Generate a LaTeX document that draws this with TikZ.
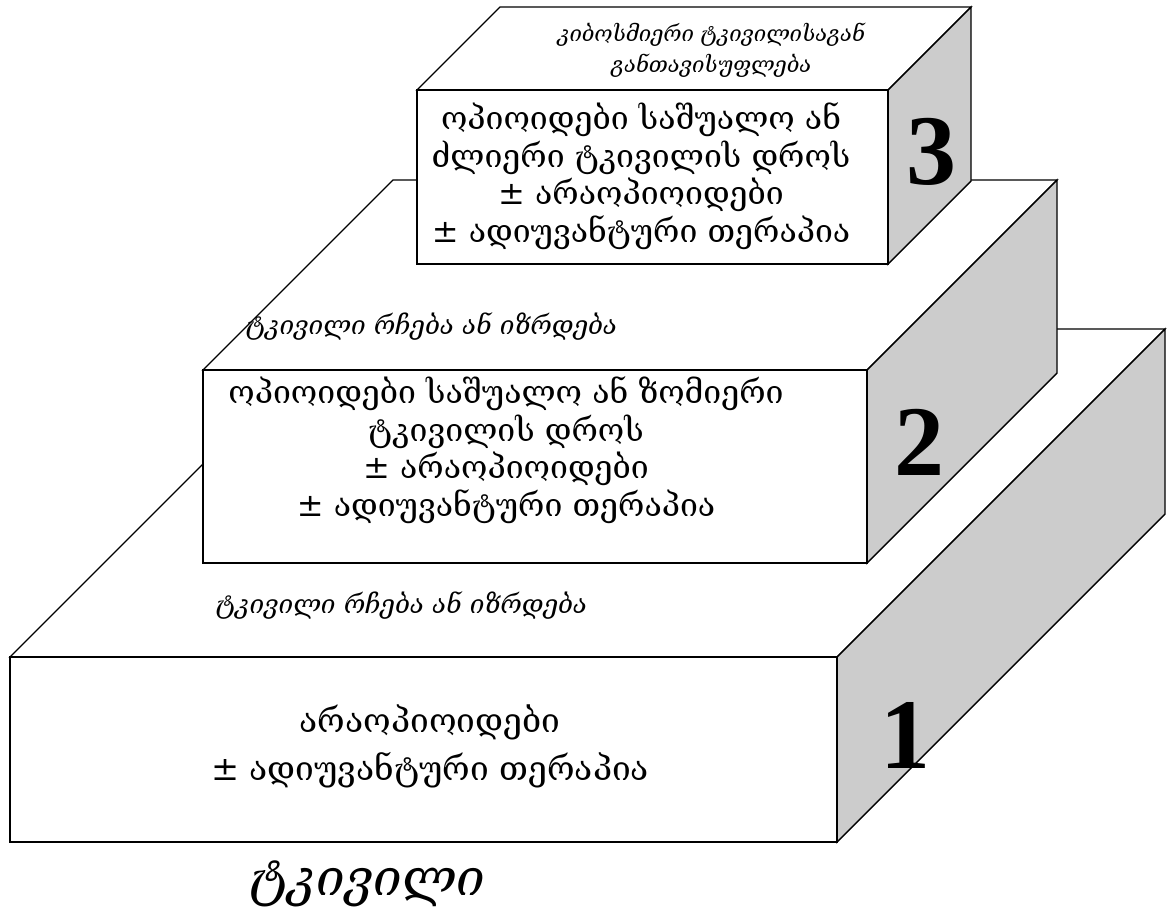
\documentclass[tikz,border=0pt]{standalone}
\usepackage{fontspec}
\newfontfamily\geo{DejaVu Serif}
\newfontfamily\geoit[FakeSlant=0.22]{DejaVu Serif}
\newfontfamily\numf{Liberation Serif}
\definecolor{sidegray}{gray}{0.8}
\newcommand\ladderbox[6]{% name, x1, y1, x2, y2, depth
  \filldraw[fill=white] (#2,#3) -- ({#2+#6},{#3-#6}) -- ({#4+#6},{#3-#6}) -- (#4,#3) -- cycle;
  \filldraw[fill=sidegray] (#4,#3) -- ({#4+#6},{#3-#6}) -- ({#4+#6},{#5-#6}) -- (#4,#5) -- cycle;
  \filldraw[fill=white] (#2,#3) rectangle (#4,#5);
  \coordinate (#1) at ({(#2+#4)/2},{(#3+#5)/2});
}
\begin{document}
\begin{tikzpicture}[x=1pt,y=-1pt,line width=1.4pt,line join=miter,
  body/.style={font=\geo\fontsize{32}{37.5}\selectfont,align=center,inner sep=0pt},
  bodylarge/.style={font=\geo\fontsize{33.5}{48}\selectfont,align=center,inner sep=0pt},
  slanted/.style={font=\geoit\fontsize{26}{31}\selectfont,align=center,inner sep=0pt},
  slantedsmall/.style={font=\geoit\fontsize{22}{31}\selectfont,align=center,inner sep=0pt},
  stepnum/.style={font=\numf\bfseries\fontsize{100}{100}\selectfont,inner sep=0pt}]
\useasboundingbox (0,0) rectangle (1172,915);
\fill[white] (0,0) rectangle (1172,915);
% step 1
\ladderbox{box1}{10}{657}{837}{842}{328}
% step 2
\ladderbox{box2}{203}{370}{867}{563}{190}
% step 3
\ladderbox{box3}{417}{90}{888}{264}{83}
% numbers
\node[stepnum] (n1) at (905,735) {1};
\node[stepnum] (n2) at (919,442) {2};
\node[stepnum] (n3) at (931,152) {3};
% texts
\node[slantedsmall] (top) at (710,50) {კიბოსმიერი ტკივილისაგან\\განთავისუფლება};
\node[body] (t3) at (641,176) {ოპიოიდები საშუალო ან\\ძლიერი ტკივილის დროს\\± არაოპიოიდები\\± ადიუვანტური თერაპია};
\node[slanted] (r2) at (430,326) {ტკივილი რჩება ან იზრდება};
\node[body] (t2) at (506,450) {ოპიოიდები საშუალო ან ზომიერი\\ტკივილის დროს\\± არაოპიოიდები\\± ადიუვანტური თერაპია};
\node[slanted] (r1) at (400,605) {ტკივილი რჩება ან იზრდება};
\node[bodylarge] (t1) at (430,746) {არაოპიოიდები\\± ადიუვანტური თერაპია};
\node[font=\geoit\fontsize{51}{55}\selectfont,inner sep=0pt] (pain) at (365,884) {ტკივილი};
\end{tikzpicture}
\end{document}
